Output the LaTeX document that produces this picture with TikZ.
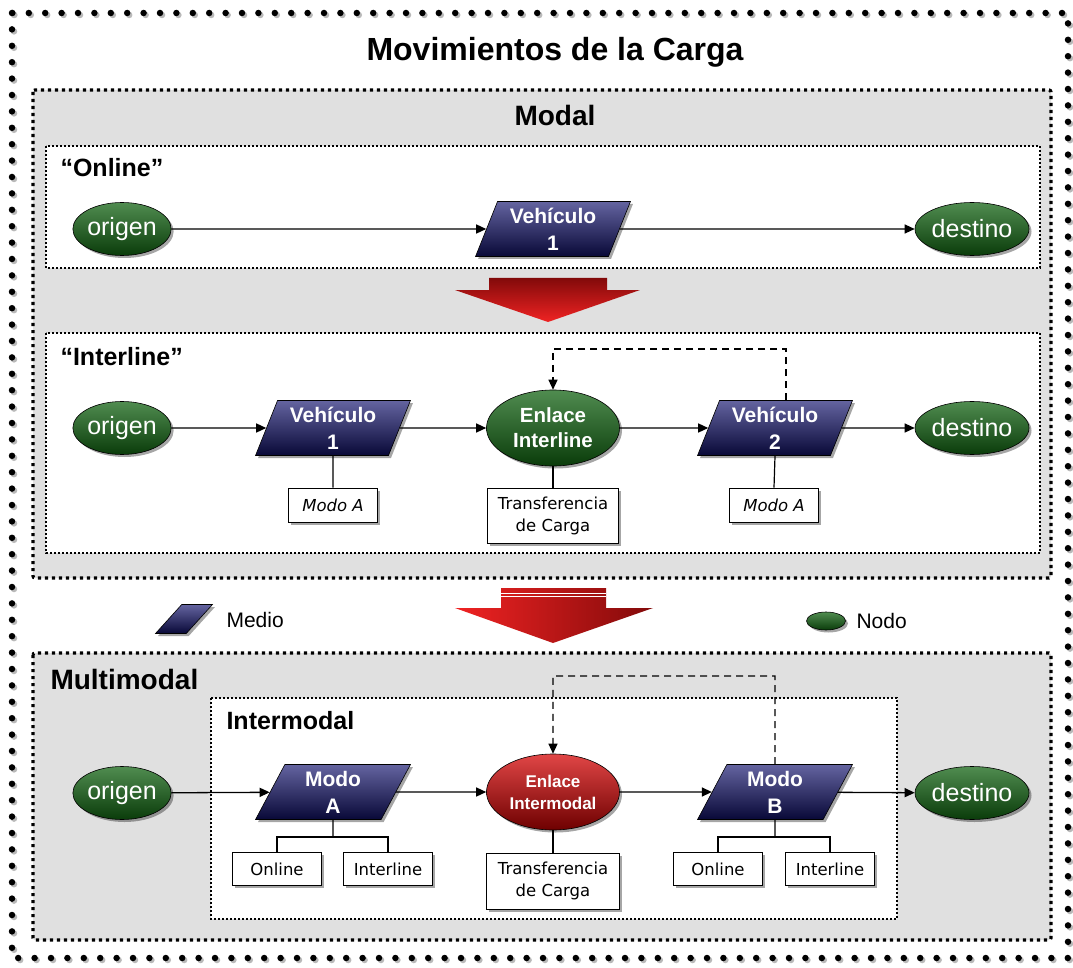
\documentclass[tikz,border=0pt]{standalone}
\usepackage{fontspec}
\setmainfont{Liberation Sans}
\newfontfamily\boxfont{DejaVu Sans}
\usetikzlibrary{shapes.geometric,shadows,arrows.meta,calc}
\definecolor{navyT}{RGB}{100,100,160}
\definecolor{navyB}{RGB}{8,8,55}
\definecolor{greenT}{RGB}{80,140,80}
\definecolor{greenB}{RGB}{10,60,10}
\definecolor{redT}{RGB}{225,70,70}
\definecolor{redB}{RGB}{110,0,0}
\definecolor{arrRed}{RGB}{240,35,35}
\definecolor{arrDark}{RGB}{130,10,10}
\definecolor{panel}{RGB}{224,224,224}
\tikzset{
  nshadow/.style={drop shadow={shadow xshift=2.5pt,shadow yshift=-2.5pt,fill=black,opacity=0.35}},
  medio/.style={trapezium, trapezium left angle=68, trapezium right angle=112,
    trapezium stretches=true, minimum width=155pt, minimum height=55pt,
    draw=black, line width=0.6pt, top color=navyT, bottom color=navyB,
    text=white, font=\bfseries\fontsize{21}{27}\selectfont, align=center,
    inner sep=0pt, nshadow},
  nodo/.style={ellipse, minimum width=89pt, minimum height=53pt, inner sep=0pt,
    draw=black, line width=0.6pt, top color=greenT, bottom color=greenB,
    text=white, font=\fontsize{25}{30}\selectfont, nshadow},
  enlace/.style={nodo, minimum width=133pt, minimum height=76pt,
    font=\bfseries\fontsize{20.5}{25}\selectfont, align=center},
  tbox/.style={rectangle, draw=black, line width=0.9pt, fill=white, inner sep=0pt,
    font=\boxfont\fontsize{16.5}{22}\selectfont, align=center, nshadow},
  flow/.style={line width=1.3pt, -{Triangle[length=10pt,width=9pt]}},
  tie/.style={line width=1.2pt},
  dashlink/.style={line width=1.3pt, dash pattern=on 7pt off 5pt, -{Triangle[length=10pt,width=9pt]}},
  panelbox/.style={fill=panel, line width=3.2pt, dash pattern=on 3.2pt off 3.8pt, rounded corners=2pt},
  subbox/.style={fill=white, line width=1.6pt, dash pattern=on 1.6pt off 2.4pt},
  secttitle/.style={font=\bfseries\fontsize{28}{32}\selectfont},
  subtitle/.style={font=\bfseries\fontsize{25}{30}\selectfont, anchor=west},
  legtext/.style={font=\fontsize{21}{25}\selectfont, anchor=west},
}
\begin{document}
\begin{tikzpicture}[x=1pt,y=-1pt]
\useasboundingbox (0,0) rectangle (1073,968);
\fill[white] (0,0) rectangle (1073,968);
% outer frame of dots
\draw[line width=6.5pt, gray!55, dash pattern=on 0pt off 16.4pt, line cap=round, xshift=2pt, yshift=-2pt] (12,13) rectangle (1068,958);
\draw[line width=6.5pt, black, dash pattern=on 0pt off 16.4pt, line cap=round] (12,13) rectangle (1068,958);
% title
\node[font=\bfseries\fontsize{32}{36}\selectfont] (title) at (555,52) {Movimientos de la Carga};

% Modal panel
\draw[panelbox] (33,90) rectangle (1051,578);
\node[secttitle] (modal) at (555,115) {Modal};
\draw[subbox] (46,146) rectangle (1040,268);
\node[subtitle] (online) at (57,168) {“Online”};
\draw[subbox] (46,333) rectangle (1040,553);
\node[subtitle] (interline) at (57,357) {“Interline”};

% Online row
\node[nodo] (o1) at (122,229) {origen};
\node[medio] (v1) at (553,229) {Vehículo\\1};
\node[nodo] (d1) at (972,229) {destino};
\draw[flow] (o1) -- (v1);
\draw[flow] (v1) -- (d1);

% red arrow 1
\shade[top color=arrDark, bottom color=arrRed, draw=none]
  (489,278) -- (607,278) -- (607,290) -- (640,290) -- (548,322) -- (455,290) -- (489,290) -- cycle;

% Interline row
\node[nodo] (o2) at (122,428) {origen};
\node[medio] (v21) at (333,428) {Vehículo\\1};
\node[enlace] (e2) at (553,428) {Enlace\\Interline};
\node[medio] (v22) at (775,428) {Vehículo\\2};
\node[nodo] (d2) at (972,428) {destino};
\node[tbox, minimum width=89pt, minimum height=34pt] (ma1) at (333,505) {\itshape Modo A};
\node[tbox, minimum width=131pt, minimum height=55pt] (t2) at (553,516) {Transferencia\\de Carga};
\node[tbox, minimum width=89pt, minimum height=34pt] (ma2) at (774,505) {\itshape Modo A};
\draw[flow] (o2) -- (v21);
\draw[flow] (v21) -- (e2);
\draw[flow] (e2) -- (v22);
\draw[flow] (v22) -- (d2);
\draw[tie] (v21.south) -- (ma1.north);
\draw[tie] (e2.south) -- (t2.north);
\draw[tie] (v22.south) -- (ma2.north);
\coordinate (dk1) at (786,349);
\draw[dashlink] (v22.north -| dk1) -- (dk1) -| (e2.north);

% legend
\node[medio, minimum width=57pt, minimum height=20pt, inner sep=1pt] (lm) at (184,619) {\strut};
\node[legtext] (lmt) at (223,620) {Medio};
\node[nodo, minimum width=39pt, minimum height=18pt, inner sep=1pt] (ln) at (826,621) {};
\node[legtext] (lnt) at (853,621) {Nodo};

% red arrow 2
\shade[left color=arrRed, right color=arrDark, draw=none]
  (501,588) -- (606,588) -- (606,608) -- (653,608) -- (553,643) -- (455,608) -- (501,608) -- cycle;
\draw[white, line width=1pt] (501,593) -- (606,593);
\draw[white, line width=1pt] (501,596.5) -- (606,596.5);

% Multimodal panel
\draw[panelbox] (33,653) rectangle (1051,940);
\node[secttitle, anchor=west] (multi) at (47,679) {Multimodal};
\draw[subbox] (211,698) rectangle (897,919);
\node[subtitle] (inter) at (223,721) {Intermodal};

\node[nodo] (o3) at (122,793) {origen};
\node[medio] (m3a) at (333,792) {Modo\\A};
\node[enlace, top color=redT, bottom color=redB, font=\bfseries\fontsize{17}{22}\selectfont] (e3) at (553,792) {Enlace\\Intermodal};
\node[medio] (m3b) at (775,792) {Modo\\B};
\node[nodo] (d3) at (972,793) {destino};
\node[tbox, minimum width=89pt, minimum height=33pt] (on1) at (277,869) {Online};
\node[tbox, minimum width=89pt, minimum height=33pt] (il1) at (388,869) {Interline};
\node[tbox, minimum width=133pt, minimum height=56pt] (t3) at (553,881) {Transferencia\\de Carga};
\node[tbox, minimum width=89pt, minimum height=33pt] (on2) at (718,869) {Online};
\node[tbox, minimum width=89pt, minimum height=33pt] (il2) at (830,869) {Interline};
\draw[flow] (o3) -- (m3a);
\draw[flow] (m3a) -- (e3);
\draw[flow] (e3) -- (m3b);
\draw[flow] (m3b) -- (d3);
\coordinate (f1) at (333,837);
\coordinate (f2) at (775,837);
\draw[tie] (m3a.south) -- (f1);
\draw[tie] (on1.north) |- (f1) -| (il1.north);
\draw[tie] (m3b.south) -- (f2);
\draw[tie] (on2.north) |- (f2) -| (il2.north);
\draw[tie] (e3.south) -- (t3.north);
\coordinate (dk2) at (775,676);
\draw[dashlink] (m3b.north) -- (dk2) -| (e3.north);
\end{tikzpicture}
\end{document}
